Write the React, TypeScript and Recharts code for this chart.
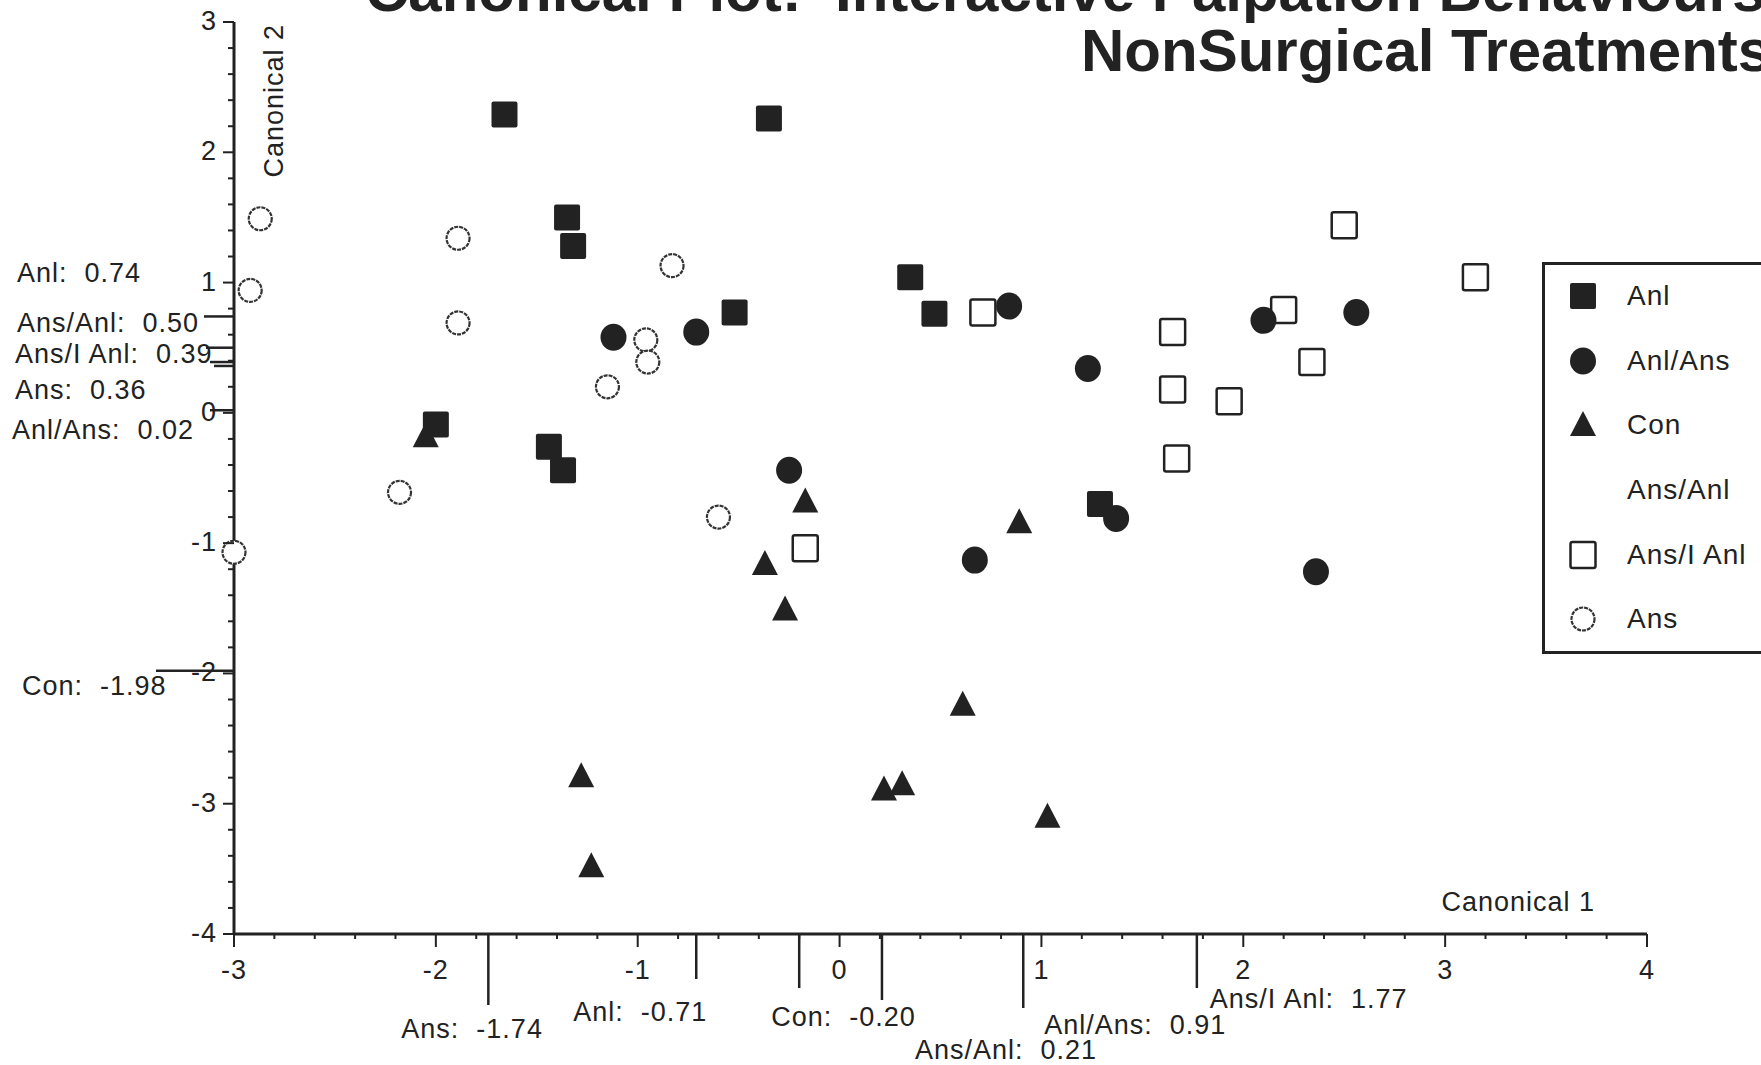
import React from 'react';
import { ScatterChart, Scatter, XAxis, YAxis, ReferenceLine, Legend } from 'recharts';

const INK = '#222';
const FONT = '"Liberation Sans", Arial, Helvetica, sans-serif';

// treatment groups in legend order
const groups = ['Anl', 'Anl/Ans', 'Con', 'Ans/Anl', 'Ans/I Anl', 'Ans'];

// group means on each canonical axis
const meanCan1 = [-0.71, 0.91, -0.2, 0.21, 1.77, -1.74];
const meanCan2 = [0.74, 0.02, -1.98, 0.5, 0.39, 0.36];

// canonical scores per subject
const anlCan1 = [-1.66, -0.35, -1.35, -1.32, -0.52, 0.35, 0.47, -2.0, -1.44, -1.37, 1.29];
const anlCan2 = [2.29, 2.26, 1.5, 1.28, 0.77, 1.04, 0.76, -0.09, -0.26, -0.44, -0.7];

const anlAnsCan1 = [-1.12, -0.71, 0.84, -0.25, 0.67, 1.23, 1.37, 2.1, 2.56, 2.36];
const anlAnsCan2 = [0.58, 0.62, 0.82, -0.44, -1.13, 0.34, -0.81, 0.71, 0.77, -1.22];

const conCan1 = [-2.05, -0.17, -0.37, -0.27, 0.89, 0.61, -1.28, -1.23, 0.22, 0.31, 1.03];
const conCan2 = [-0.18, -0.68, -1.16, -1.51, -0.84, -2.24, -2.79, -3.48, -2.89, -2.85, -3.1];

const ansIAnlCan1 = [-0.17, 0.71, 1.65, 1.65, 1.67, 1.93, 2.2, 2.34, 2.5, 3.15];
const ansIAnlCan2 = [-1.04, 0.77, 0.62, 0.18, -0.35, 0.09, 0.79, 0.39, 1.44, 1.04];

const ansCan1 = [-2.87, -2.92, -1.89, -1.89, -0.83, -0.96, -0.95, -1.15, -2.18, -0.6, -3.0];
const ansCan2 = [1.49, 0.94, 1.34, 0.69, 1.13, 0.56, 0.39, 0.2, -0.61, -0.8, -1.07];

const xMajor = [-3, -2, -1, 0, 1, 2, 3, 4];
const yMajor = [-4, -3, -2, -1, 0, 1, 2, 3];

// five minor steps between labelled ticks
const withMinor = (major: number[]) =>
  major.flatMap((v, i) =>
    i === major.length - 1 ? [v] : [0, 1, 2, 3, 4].map((k) => Math.round((v + k * 0.2) * 10) / 10)
  );

const zip = (xs: number[], ys: number[]) => xs.map((x, i) => ({ x, y: ys[i] }));

// marker glyphs
const shapes: Record<string, (cx: number, cy: number) => React.ReactElement | null> = {
  Anl: (cx, cy) => <rect x={cx - 13} y={cy - 13} width={26} height={26} rx={2} fill={INK} />,
  'Anl/Ans': (cx, cy) => <ellipse cx={cx} cy={cy} rx={13} ry={13.5} fill={INK} />,
  Con: (cx, cy) => (
    <polygon points={`${cx},${cy - 14} ${cx - 13},${cy + 11} ${cx + 13},${cy + 11}`} fill={INK} />
  ),
  'Ans/Anl': () => null,
  'Ans/I Anl': (cx, cy) => (
    <rect x={cx - 12.5} y={cy - 13} width={25} height={26} rx={2} fill="#fff" stroke={INK} strokeWidth={2.5} />
  ),
  Ans: (cx, cy) => (
    <circle cx={cx} cy={cy} r={11.5} fill="#fff" stroke="#333" strokeWidth={2.2} strokeDasharray="4 1" />
  ),
};

const markerFor = (name: string) => (props: any) => shapes[name](props.cx, props.cy) || <g />;

// placement of the group-mean notes along each axis
const can1Notes: Record<string, { len: number; dx: number; dy: number }> = {
  Anl: { len: 45, dx: -123, dy: 87 },
  'Anl/Ans': { len: 74, dx: 21, dy: 100 },
  Con: { len: 54, dx: -28, dy: 92 },
  'Ans/Anl': { len: 66, dx: 33, dy: 125 },
  'Ans/I Anl': { len: 54, dx: 13, dy: 74 },
  Ans: { len: 71, dx: -87, dy: 104 },
};
const can2Notes: Record<string, { len: number; dx: number; dy: number }> = {
  Anl: { len: 30, dx: -217, dy: -34 },
  'Anl/Ans': { len: 24, dx: -222, dy: 29 },
  Con: { len: 78, dx: -212, dy: 24 },
  'Ans/Anl': { len: 28, dx: -217, dy: -16 },
  'Ans/I Anl': { len: 24, dx: -219, dy: 1 },
  Ans: { len: 20, dx: -219, dy: 33 },
};

const noteText = (name: string, v: number) => `${name}:\u00a0 ${v.toFixed(2)}`;

const textStyle = { fontFamily: FONT, fontSize: 27, fill: INK, letterSpacing: 1 };

const XTick = ({ x, y, payload }: any) =>
  Number.isInteger(payload.value) ? (
    <g>
      <line x1={x} x2={x} y1={y} y2={y + 13} stroke={INK} strokeWidth={2} />
      <text x={x} y={y + 45} textAnchor="middle" {...textStyle}>
        {payload.value}
      </text>
    </g>
  ) : (
    <line x1={x} x2={x} y1={y} y2={y + 5} stroke={INK} strokeWidth={2} />
  );

const YTick = ({ x, y, payload }: any) =>
  Number.isInteger(payload.value) ? (
    <g>
      <line x1={x - 11} x2={x} y1={y} y2={y} stroke={INK} strokeWidth={2} />
      <text x={x - 17} y={y + 8} textAnchor="end" {...textStyle}>
        {payload.value}
      </text>
    </g>
  ) : (
    <line x1={x - 6} x2={x} y1={y} y2={y} stroke={INK} strokeWidth={2} />
  );

const legendRows = [31, 96, 160, 225, 290, 354];

const renderLegend = () => (
  <div
    style={{
      position: 'relative',
      width: 260,
      height: 386,
      border: `3px solid ${INK}`,
      background: '#fff',
      fontFamily: FONT,
      fontSize: 28,
      letterSpacing: 1,
      color: INK,
    }}
  >
    {groups.map((g, i) => (
      <div
        key={g}
        style={{ position: 'absolute', left: 0, top: legendRows[i] - 20, height: 40, display: 'flex', alignItems: 'center' }}
      >
        <svg width={82} height={40}>
          {shapes[g](38, 20)}
        </svg>
        <span>{g}</span>
      </div>
    ))}
  </div>
);

const series = [
  { name: 'Con', data: zip(conCan1, conCan2) },
  { name: 'Ans/I Anl', data: zip(ansIAnlCan1, ansIAnlCan2) },
  { name: 'Ans', data: zip(ansCan1, ansCan2) },
  { name: 'Anl', data: zip(anlCan1, anlCan2) },
  { name: 'Anl/Ans', data: zip(anlAnsCan1, anlAnsCan2) },
];

export default function App() {
  return (
    <div style={{ position: 'absolute', left: 0, top: 0, width: 1761, height: 1065, overflow: 'hidden', background: '#fff' }}>
      <ScatterChart width={1761} height={1065} margin={{ top: 22, right: 114, bottom: 91, left: 174 }}>
        <text x={365} y={11} fontFamily={FONT} fontSize={60} fontWeight="bold" fill={INK}>
          {'Canonical Plot:\u00a0 Interactive Palpation Behaviours,'}
        </text>
        <text x={1081} y={71} fontFamily={FONT} fontSize={60} fontWeight="bold" fill={INK}>
          NonSurgical Treatments
        </text>

        <XAxis
          type="number"
          dataKey="x"
          domain={[-3, 4]}
          ticks={withMinor(xMajor)}
          interval={0}
          height={40}
          tickSize={0}
          tickMargin={0}
          tickLine={false}
          axisLine={{ stroke: INK, strokeWidth: 3 }}
          tick={XTick}
        />
        <YAxis
          type="number"
          dataKey="y"
          domain={[-4, 3]}
          ticks={withMinor(yMajor)}
          interval={0}
          width={60}
          tickSize={0}
          tickMargin={0}
          tickLine={false}
          axisLine={{ stroke: INK, strokeWidth: 3 }}
          tick={YTick}
        />

        <text x={1595} y={911} textAnchor="end" {...textStyle}>
          Canonical 1
        </text>
        <text x={283} y={24} textAnchor="end" transform="rotate(-90, 283, 24)" {...textStyle}>
          Canonical 2
        </text>

        {groups.map((g, i) => (
          <ReferenceLine
            key={`c1-${g}`}
            x={meanCan1[i]}
            ifOverflow="visible"
            shape={(p: any) => {
              const n = can1Notes[g];
              const base = Math.max(p.y1, p.y2);
              return (
                <g>
                  <line x1={p.x1} x2={p.x1} y1={base} y2={base + n.len} stroke={INK} strokeWidth={2.5} />
                  <text x={p.x1 + n.dx} y={base + n.dy} {...textStyle}>
                    {noteText(g, meanCan1[i])}
                  </text>
                </g>
              );
            }}
          />
        ))}
        {groups.map((g, i) => (
          <ReferenceLine
            key={`c2-${g}`}
            y={meanCan2[i]}
            ifOverflow="visible"
            shape={(p: any) => {
              const n = can2Notes[g];
              const edge = Math.min(p.x1, p.x2);
              return (
                <g>
                  <line x1={edge - n.len} x2={edge} y1={p.y1} y2={p.y1} stroke={INK} strokeWidth={2.5} />
                  <text x={edge + n.dx} y={p.y1 + n.dy} {...textStyle}>
                    {noteText(g, meanCan2[i])}
                  </text>
                </g>
              );
            }}
          />
        ))}

        {series.map((s) => (
          <Scatter key={s.name} name={s.name} data={s.data} shape={markerFor(s.name)} isAnimationActive={false} />
        ))}

        <Legend
          layout="vertical"
          align="center"
          verticalAlign="middle"
          content={renderLegend}
          wrapperStyle={{ left: 1542, top: 262, width: 266 }}
        />
      </ScatterChart>
    </div>
  );
}
